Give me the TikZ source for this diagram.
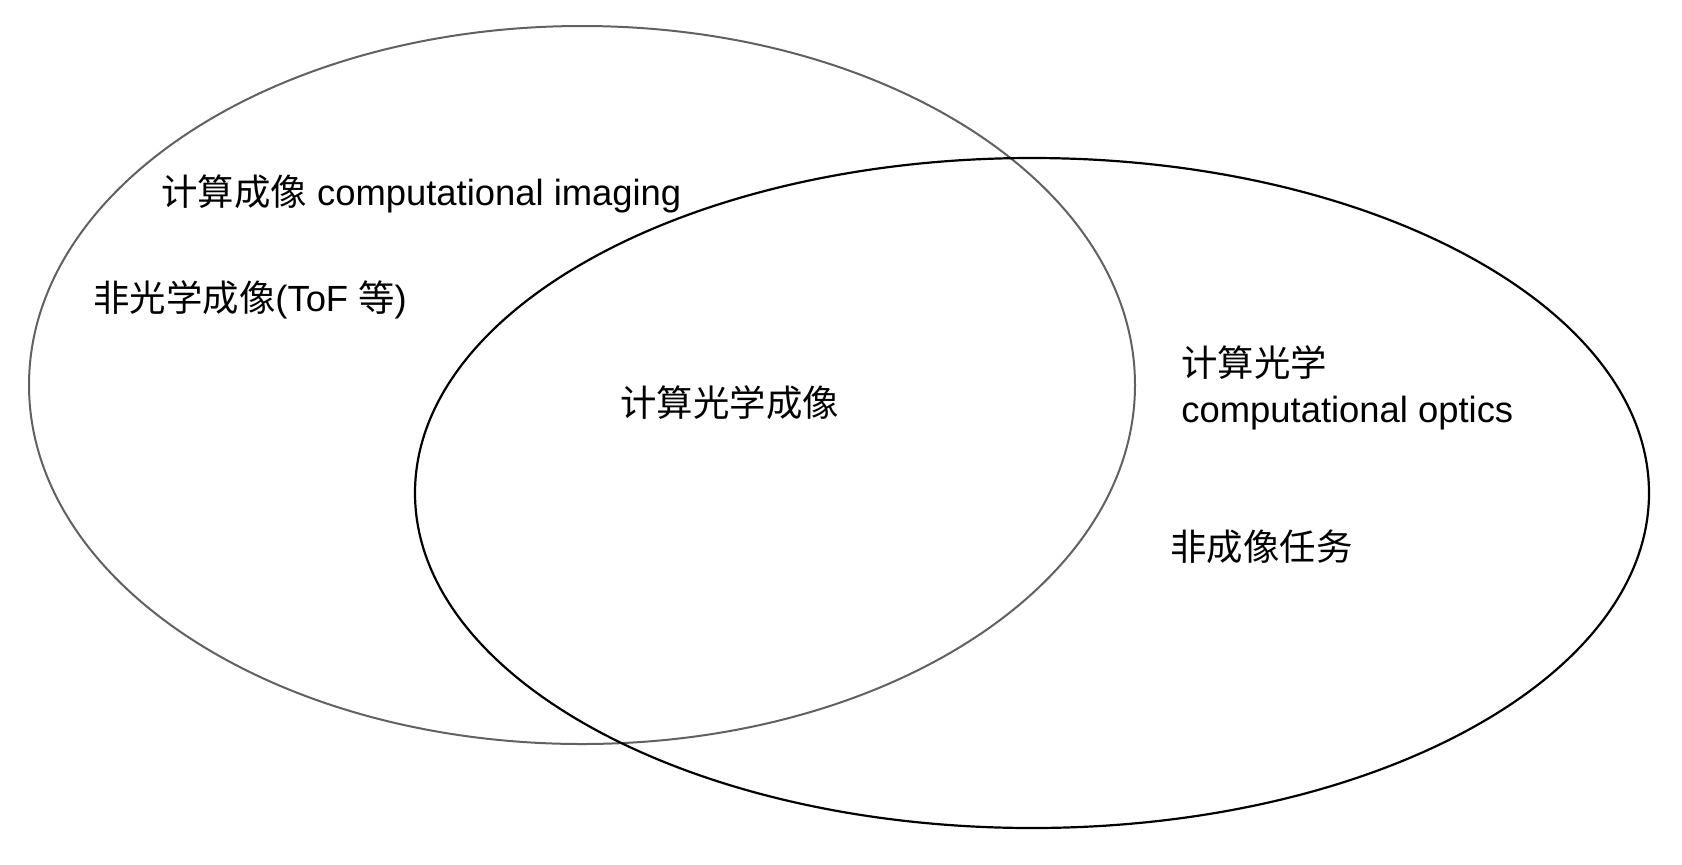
\documentclass[tikz,border=0pt]{standalone}
\usepackage{fontspec}
\setmainfont{Liberation Sans}
\newfontfamily\cjk{Noto Sans CJK SC}
\usetikzlibrary{shapes.geometric}
\begin{document}
\begin{tikzpicture}[x=0.5pt,y=-0.5pt,
  setA/.style={ellipse, draw=black!62, line width=1pt, inner sep=0pt},
  setB/.style={ellipse, draw=black, line width=1.1pt, inner sep=0pt},
  lbl/.style={font=\fontsize{18.2pt}{23pt}\selectfont, inner sep=0pt, text=black, align=left}]
\fill[white] (0,0) rectangle (1682,864);
\useasboundingbox (0,0) rectangle (1682,864);
\node[setA, minimum width=553pt, minimum height=359pt] (imaging) at (582,385) {};
\node[setB, minimum width=617pt, minimum height=335pt] (optics) at (1032,493) {};
\node[lbl, anchor=base west] (ci) at (161,205) {{\cjk 计算成像} computational imaging};
\node[lbl, anchor=base west] (tof) at (93,311) {{\cjk 非光学成像}(ToF {\cjk 等})};
\node[lbl, anchor=base west] (coi) at (620,416) {{\cjk 计算光学成像}};
\node[lbl, anchor=base west] (co) at (1181,422) {{\cjk 计算光学}\\computational optics};
\node[lbl, anchor=base west] (nit) at (1170,560) {{\cjk 非成像任务}};
\end{tikzpicture}
\end{document}
